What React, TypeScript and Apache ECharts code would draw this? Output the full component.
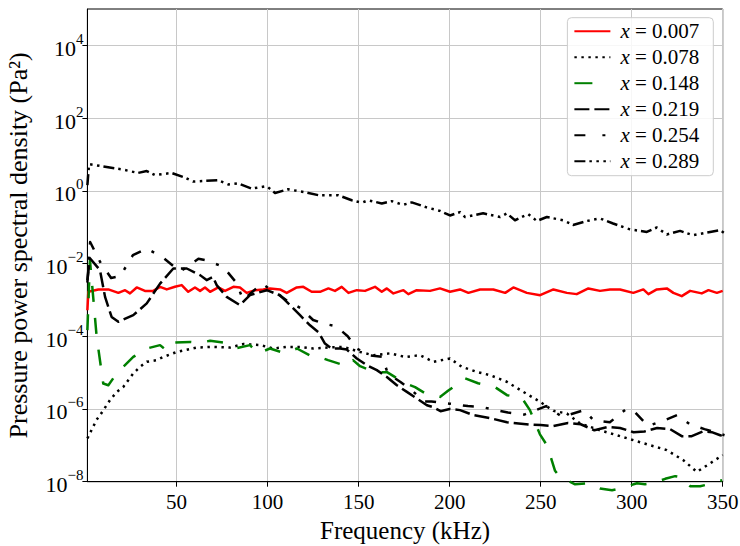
import React, { useEffect, useRef } from 'react';
import * as echarts from 'echarts';

const FONT = "'Liberation Serif', 'Times New Roman', serif";

const X_TICKS = [50, 100, 150, 200, 250, 300, 350];
const Y_TICKS = [1e-8, 1e-6, 1e-4, 1e-2, 1, 1e2, 1e4];

const LABELS = ['x = 0.007', 'x = 0.078', 'x = 0.148', 'x = 0.219', 'x = 0.254', 'x = 0.289'];

// x = 0.007
const f007 = [1, 1.5, 7, 12.5, 18, 21.7, 24.4, 28.1, 32.6, 37.2, 40.9, 44.6, 49.1, 52.8, 56.4, 60.1, 62.9, 65.6, 68.4, 72.9, 76.6, 81.2, 84.8, 88.5, 93.1, 97.6, 101.3, 106.8, 110.5, 116, 119.6, 124.2, 128.8, 133.4, 137, 140.7, 144.4, 149, 153.5, 159, 162.7, 165.5, 169.1, 174.6, 177.3, 181.9, 189.2, 194.7, 200.2, 205.7, 210.3, 216.7, 224, 230.5, 235, 242.4, 249.7, 257, 264.4, 269.8, 276.2, 282.6, 288.1, 293.6, 300.9, 306.4, 309.2, 313.8, 319.3, 322.9, 327.5, 332.1, 338.5, 342.2, 346.8, 350];
const p007 = [5.2e-4, 1.67e-3, 1.94e-3, 1.94e-3, 1.56e-3, 1.85e-3, 1.51e-3, 2.2e-3, 1.77e-3, 1.77e-3, 2.29e-3, 1.94e-3, 2.29e-3, 2.55e-3, 1.67e-3, 2.2e-3, 1.77e-3, 2.2e-3, 1.67e-3, 2.2e-3, 1.77e-3, 2.29e-3, 2.2e-3, 1.56e-3, 1.85e-3, 1.94e-3, 2.07e-3, 1.94e-3, 1.56e-3, 2.2e-3, 2.29e-3, 1.67e-3, 1.67e-3, 2.07e-3, 1.77e-3, 2.29e-3, 1.56e-3, 1.85e-3, 1.77e-3, 2.29e-3, 1.67e-3, 2.07e-3, 1.51e-3, 1.85e-3, 1.44e-3, 1.85e-3, 1.77e-3, 2.07e-3, 1.67e-3, 1.94e-3, 1.56e-3, 1.94e-3, 1.94e-3, 1.56e-3, 2.2e-3, 1.56e-3, 1.35e-3, 1.94e-3, 1.56e-3, 1.44e-3, 2.07e-3, 1.77e-3, 1.94e-3, 1.94e-3, 1.56e-3, 1.94e-3, 1.44e-3, 1.94e-3, 2.07e-3, 1.56e-3, 1.27e-3, 1.77e-3, 1.51e-3, 1.85e-3, 1.56e-3, 1.77e-3];

// x = 0.078
const f078 = [1, 6.1, 7.9, 13.4, 17.1, 20.7, 26.2, 29.9, 33.6, 39, 42.7, 50.1, 61.1, 70.2, 79.4, 86.7, 96, 103.1, 110.5, 117.8, 125.1, 133.4, 141.6, 150.8, 158.1, 167.3, 175.5, 183.7, 191.1, 200.2, 206.7, 214.9, 222.3, 231.4, 240.5, 249.7, 257, 264.4, 271.7, 282.6, 291.8, 300.9, 310.1, 319.3, 328.4, 335.8, 343.1, 350];
const p078 = [1.55e-7, 5.1e-7, 6.7e-7, 1.75e-6, 2.95e-6, 4.05e-6, 9.5e-6, 1.44e-5, 1.98e-5, 2.2e-5, 2.7e-5, 3.7e-5, 4.9e-5, 5.1e-5, 4.9e-5, 6.1e-5, 5.7e-5, 4.6e-5, 5.1e-5, 5.1e-5, 4.6e-5, 4.9e-5, 5.1e-5, 3.7e-5, 3.0e-5, 3.4e-5, 2.7e-5, 3.0e-5, 1.98e-5, 2.45e-5, 1.44e-5, 1.05e-5, 8.5e-6, 5.6e-6, 2.95e-6, 1.57e-6, 8.9e-7, 7.5e-7, 4.0e-7, 2.6e-7, 1.9e-7, 1.39e-7, 1.01e-7, 7.4e-8, 3.9e-8, 1.86e-8, 3.2e-8, 5.4e-8];

// x = 0.148
const f148 = [1, 2.4, 6.1, 9.7, 12.5, 17.1, 26.2, 33.6, 40.9, 44.2, 47, 57.4, 62.9, 68.4, 76.6, 82.1, 90.3, 94.7, 101.3, 109.5, 116.1, 124.9, 128.8, 133.2, 143.6, 146.9, 150.8, 159, 165.6, 175.5, 181, 186.5, 194.7, 199.1, 208.5, 215.6, 224.9, 231.5, 239.7, 244.1, 249.6, 253.5, 257.9, 260.6, 268.9, 277.1, 282.6, 289.2, 293.6, 302.9, 307.3, 311.8, 318.4, 323.9, 328.3, 332.1, 337.6, 344.7, 349.7];
const p148 = [1.47e-4, 1.24e-2, 9.6e-5, 5.0e-6, 4.5e-6, 9.5e-6, 2.7e-5, 4.6e-5, 5.7e-5, 4.15e-5, 6.6e-5, 7.0e-5, 6.6e-5, 7.5e-5, 6.6e-5, 4.6e-5, 5.7e-5, 3.4e-5, 4.6e-5, 3.4e-5, 4.6e-5, 2.66e-5, 2.66e-5, 2.2e-5, 1.5e-5, 2.2e-5, 1.5e-5, 1.03e-5, 1.03e-5, 5.1e-6, 4.0e-6, 2.7e-6, 2.15e-6, 3.15e-6, 7.0e-6, 5.1e-6, 4.0e-6, 2.4e-6, 2.0e-6, 9.3e-7, 2.0e-7, 1.0e-7, 2.0e-8, 1.33e-8, 8.5e-9, 9.1e-9, 6.5e-9, 5.8e-9, 6.5e-9, 9.1e-9, 8.5e-9, 9.1e-9, 1.2e-8, 1.42e-8, 1.3e-8, 7.5e-9, 7.5e-9, 9.1e-9, 1.1e-8];

// x = 0.219
const f219 = [1, 2.4, 7.9, 10.7, 14.3, 18, 26.2, 33.6, 40.9, 48.2, 55.6, 62.9, 66.5, 70, 72, 77.5, 84.8, 90.3, 99.5, 106.8, 112.3, 117.8, 123.3, 127.9, 131.5, 135.2, 139.8, 143.5, 149, 154.5, 160, 165.5, 171, 176.5, 182, 187.5, 191, 195, 200, 205.7, 212.9, 222.3, 231.5, 245, 250, 257, 265, 272, 279.5, 287, 293.6, 301, 307, 314, 321, 327.5, 333, 339, 344, 348.6, 351];
const p219 = [3.5e-3, 1.4e-2, 6.6e-3, 1.21e-3, 3.4e-4, 2.5e-4, 3.8e-4, 8.0e-4, 2.8e-3, 7.3e-3, 7.3e-3, 4.8e-3, 3.5e-3, 4.3e-3, 2.55e-3, 1.21e-3, 7.2e-4, 1.35e-3, 1.85e-3, 1.35e-3, 7.2e-4, 3.8e-4, 2.0e-4, 1.3e-4, 6.3e-5, 4.6e-5, 4.6e-5, 4.3e-5, 2.45e-5, 1.6e-5, 1.17e-5, 7.6e-6, 4.5e-6, 2.95e-6, 1.94e-6, 1.27e-6, 1.12e-6, 8.7e-7, 1.0e-6, 9.3e-7, 6.8e-7, 5.6e-7, 4.3e-7, 3.7e-7, 3.6e-7, 3.4e-7, 4.1e-7, 3.8e-7, 2.6e-7, 3.2e-7, 3.0e-7, 2.3e-7, 2.4e-7, 3.0e-7, 2.8e-7, 1.79e-7, 1.79e-7, 2.4e-7, 2.3e-7, 1.9e-7, 1.7e-7];

// x = 0.254
const f254 = [1, 2.5, 8, 14, 19, 26, 33.6, 43, 52, 62, 67, 75.6, 83, 86.5, 96.8, 105, 110, 118, 125, 131, 137.5, 144, 149, 156, 163, 166, 173, 180, 186, 190, 200, 210, 218, 232, 241, 253, 262, 265, 274, 279, 288, 297, 301, 309, 318, 325, 332, 340, 351];
const p254 = [3e-3, 3.9e-2, 1.1e-2, 4e-3, 4.5e-3, 1.7e-2, 2.6e-2, 1.4e-2, 6e-3, 1.35e-2, 1.2e-2, 8.1e-3, 2.9e-3, 1.0e-3, 2.8e-3, 1.5e-3, 1.0e-3, 6e-4, 2.8e-4, 2.2e-4, 1.9e-4, 1.0e-4, 4.6e-5, 3.0e-5, 2.7e-5, 9.5e-6, 5.5e-6, 3.0e-6, 1.6e-6, 1.6e-6, 1.4e-6, 1.2e-6, 1.12e-6, 8e-7, 7e-7, 1.2e-6, 6e-7, 6.8e-7, 9.3e-7, 4.9e-7, 4.3e-7, 1.0e-6, 9e-7, 3.4e-7, 4.9e-7, 6.8e-7, 3.8e-7, 2.8e-7, 1.9e-7];

// x = 0.289
const f289 = [1, 1.9, 10.7, 19.8, 28.8, 33.6, 38.1, 47.3, 54.6, 59, 72.8, 78.3, 83.8, 91.3, 99.5, 104.1, 111.2, 120.6, 127.8, 138.7, 146.2, 151.7, 155.2, 162.7, 168.2, 174.4, 179.2, 187.4, 194.7, 200.2, 205.7, 208.5, 218.4, 227.7, 231.4, 235.9, 243.1, 247.9, 253.4, 262.3, 267.8, 275.3, 282.6, 289.8, 299.1, 308.3, 313.8, 319.3, 326.6, 333.7, 343.1, 348.6, 351];
const p289 = [1.44, 5.4, 4.6, 3.9, 3.1, 3.5, 2.7, 3.1, 2.3, 1.8, 1.95, 1.5, 1.6, 1.15, 1.35, 0.87, 1.1, 0.91, 0.76, 0.76, 0.55, 0.47, 0.55, 0.45, 0.52, 0.41, 0.48, 0.35, 0.28, 0.21, 0.26, 0.19, 0.24, 0.19, 0.24, 0.155, 0.23, 0.148, 0.19, 0.155, 0.115, 0.148, 0.174, 0.126, 0.087, 0.074, 0.098, 0.063, 0.079, 0.06, 0.074, 0.083, 0.068];

function pairs(f: number[], p: number[]) {
  const n = Math.min(f.length, p.length);
  const out: number[][] = [];
  for (let i = 0; i < n; i++) out.push([f[i], p[i]]);
  return out;
}

export default function App() {
  const ref = useRef<HTMLDivElement>(null);
  useEffect(() => {
    const chart = echarts.init(ref.current!, null, { renderer: 'svg' });
    const mk = (name: string, f: number[], p: number[], color: string, type: any, clip = true) => ({
      name,
      type: 'line',
      data: pairs(f, p),
      symbol: 'none',
      showSymbol: false,
      clip,
      lineStyle: { color, width: 2.5, type, cap: 'butt', join: 'round' },
      itemStyle: { color },
    });
    chart.setOption({
      animation: false,
      backgroundColor: '#ffffff',
      textStyle: { fontFamily: FONT },
      grid: {
        left: 87.4,
        right: 17.3,
        top: 9,
        bottom: 64.3,
        show: true,
        borderColor: '#000',
        borderWidth: 1,
        backgroundColor: 'transparent',
        containLabel: false,
        outerBoundsMode: 'none',
      },
      xAxis: {
        type: 'value',
        min: 1,
        max: 350,
        name: 'Frequency (kHz)',
        nameLocation: 'middle',
        nameGap: 32,
        nameTextStyle: { fontFamily: FONT, fontSize: 25, color: '#000' },
        axisLine: { show: true, onZero: false, lineStyle: { color: '#000', width: 1 } },
        axisTick: { show: true, customValues: X_TICKS, length: 5, lineStyle: { color: '#000', width: 1 } },
        axisLabel: { customValues: X_TICKS, fontFamily: FONT, fontSize: 21, color: '#000', margin: 10 },
        splitLine: { show: true, lineStyle: { color: '#c8c8c8', width: 1 } },
      },
      yAxis: {
        type: 'log',
        logBase: 10,
        min: 1e-8,
        max: 1e5,
        name: 'Pressure power spectral density (Pa\u00b2)',
        nameLocation: 'middle',
        nameRotate: 90,
        nameGap: 56,
        nameTextStyle: { fontFamily: FONT, fontSize: 26, color: '#000' },
        axisLine: { show: true, onZero: false, lineStyle: { color: '#000', width: 1 } },
        axisTick: { show: true, customValues: Y_TICKS, length: 5, lineStyle: { color: '#000', width: 1 } },
        axisLabel: {
          customValues: Y_TICKS,
          margin: 4,
          fontFamily: FONT,
          formatter: (v: number) => {
            const e = Math.round(Math.log10(v));
            return `{b|10}{s|${e < 0 ? '\u2212' : ''}${Math.abs(e)}}`;
          },
          rich: {
            b: { fontFamily: FONT, fontSize: 22, color: '#000', lineHeight: 28, verticalAlign: 'bottom' },
            s: { fontFamily: FONT, fontSize: 15, color: '#000', lineHeight: 15, verticalAlign: 'top' },
          },
        },
        splitLine: { show: true, lineStyle: { color: '#c8c8c8', width: 1 } },
      },
      legend: {
        orient: 'vertical',
        right: 26.7,
        top: 17.7,
        itemWidth: 36,
        itemHeight: 14,
        itemGap: 5,
        padding: [3, 14, 4, 6],
        backgroundColor: 'rgba(255,255,255,0.85)',
        borderColor: '#cccccc',
        borderWidth: 1,
        borderRadius: 4,
        data: [
          { name: LABELS[0] },
          { name: LABELS[1] },
          { name: LABELS[2], lineStyle: { type: [18, 20] } },
          { name: LABELS[3] },
          { name: LABELS[4], lineStyle: { type: [11, 17, 3, 17] } },
          { name: LABELS[5] },
        ],
        itemStyle: { opacity: 0 },
        formatter: (n: string) => n.replace(/^x/, '{i|x}'),
        textStyle: {
          fontFamily: FONT,
          fontSize: 21,
          color: '#000',
          padding: [0, 0, 0, 5],
          rich: { i: { fontFamily: FONT, fontSize: 21, fontStyle: 'italic', color: '#000' } },
        },
      },
      series: [
        mk(LABELS[0], f007, p007, '#ff0000', 'solid'),
        mk(LABELS[1], f078, p078, '#000000', [2.4, 4.6]),
        mk(LABELS[2], f148, p148, '#008000', [16, 16], false),
        mk(LABELS[3], f219, p219, '#000000', [15, 5]),
        mk(LABELS[4], f254, p254, '#000000', [11, 12, 3, 12]),
        mk(LABELS[5], f289, p289, '#000000', [11, 4, 2.5, 4.5, 2.5, 4.5, 2.5, 4]),
      ],
    });
    return () => chart.dispose();
  }, []);
  return <div ref={ref} style={{ position: 'fixed', left: 0, top: 0, width: 740, height: 546 }} />;
}
